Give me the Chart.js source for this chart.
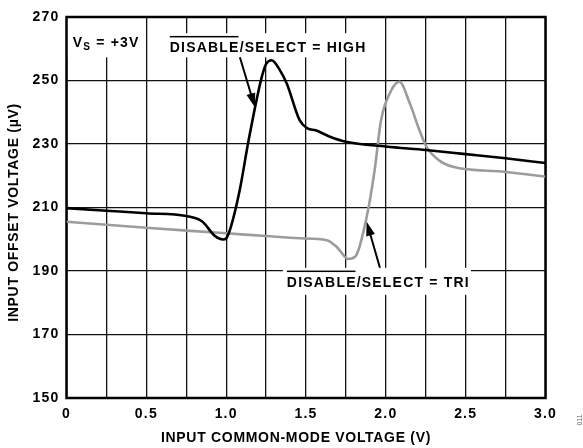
<!DOCTYPE html>
<html>
<head>
<meta charset="utf-8">
<script src="https://cdn.jsdelivr.net/npm/chart.js@4.4.1/dist/chart.umd.min.js"></script>
<style>
  html, body { margin: 0; padding: 0; background: #fff; }
  canvas { display: block; }
</style>
</head>
<body>
<canvas id="offset-chart" width="583" height="448"></canvas>
<script>
// DISABLE/SELECT = HIGH (black trace)
const highX = [0, 0.25, 0.5, 0.75, 0.85, 0.93, 0.98, 1.0, 1.03, 1.085, 1.14, 1.22, 1.25, 1.285, 1.337, 1.38, 1.46, 1.51, 1.56, 1.65, 1.75, 2.0, 2.25, 2.5, 2.75, 3.0];
const highY = [209.8, 209.0, 208.2, 207.3, 205.6, 201.0, 199.9, 200.3, 204.0, 215.5, 231.0, 250.5, 255.2, 256.4, 253.2, 249.0, 237.5, 234.9, 234.3, 232.3, 230.7, 229.2, 228.1, 226.8, 225.5, 224.0];

// DISABLE/SELECT = TRI (grey trace)
const triX = [0, 0.5, 1.0, 1.25, 1.46, 1.63, 1.69, 1.765, 1.81, 1.88, 1.93, 1.97, 2.035, 2.085, 2.15, 2.21, 2.255, 2.34, 2.42, 2.75, 3.0];
const triY = [205.5, 203.6, 201.9, 201.0, 200.3, 199.7, 197.7, 193.8, 194.6, 207.0, 221.8, 237.5, 247.0, 249.6, 242.8, 234.4, 229.1, 224.6, 222.8, 221.2, 219.7];

const xTickLabels = ['0', '0.5', '1.0', '1.5', '2.0', '2.5', '3.0'];
const yTickLabels = ['150', '170', '190', '210', '230', '250', '270'];

const FONT = '"Liberation Sans", Arial, Helvetica, sans-serif';

function drawArrow(ctx, x1, y1, x2, y2) {
  const ang = Math.atan2(y2 - y1, x2 - x1);
  const len = 14, half = 4.5;
  const c = Math.cos(ang), s = Math.sin(ang);
  ctx.strokeStyle = '#000';
  ctx.fillStyle = '#000';
  ctx.lineWidth = 2;
  ctx.beginPath();
  ctx.moveTo(x1, y1);
  ctx.lineTo(x2 - c * len * 0.8, y2 - s * len * 0.8);
  ctx.stroke();
  ctx.beginPath();
  ctx.moveTo(x2, y2);
  ctx.lineTo(x2 - c * len + s * half, y2 - s * len - c * half);
  ctx.lineTo(x2 - c * len - s * half, y2 - s * len + c * half);
  ctx.closePath();
  ctx.fill();
}

function disableLabel(ctx, x, y, rest) {
  ctx.font = 'bold 14px ' + FONT;
  ctx.letterSpacing = '1.2px';
  ctx.textAlign = 'left';
  ctx.textBaseline = 'alphabetic';
  ctx.fillStyle = '#000';
  ctx.fillText('DISABLE' + rest, x, y);
  const w = ctx.measureText('DISABLE').width - 1.2;
  ctx.fillRect(x, y - 16, w, 1.5);
}

const annotations = {
  id: 'annotations',
  beforeDraw(chart) {
    chart.ctx.letterSpacing = '1.2px';
  },
  beforeDatasetsDraw(chart) {
    const { ctx, chartArea: a, scales: { x, y } } = chart;
    ctx.save();
    ctx.fillStyle = '#fff';
    const box = (v1, t, v2, b) => {
      const px = x.getPixelForValue(v1), py = y.getPixelForValue(t);
      ctx.fillRect(px, py, x.getPixelForValue(v2) - px, y.getPixelForValue(b) - py);
    };
    box(0, 270, 0.459, 257.3);
    box(0.635, 264.9, 1.888, 257.3);
    box(1.355, 191.0, 2.533, 182.5);

    ctx.strokeStyle = '#000';
    ctx.lineWidth = 2.5;
    ctx.strokeRect(a.left, a.top, a.right - a.left, a.bottom - a.top);
    ctx.restore();
  },
  afterDatasetsDraw(chart) {
    const { ctx, chartArea: a, scales: { x, y } } = chart;
    ctx.save();
    ctx.fillStyle = '#000';

    // V_S = +3V
    let tx = x.getPixelForValue(0.039), ty = y.getPixelForValue(260.5);
    ctx.letterSpacing = '1.2px';
    ctx.font = 'bold 14px ' + FONT;
    ctx.textAlign = 'left';
    ctx.textBaseline = 'alphabetic';
    ctx.fillText('V', tx, ty);
    tx += ctx.measureText('V').width;
    ctx.font = 'bold 10px ' + FONT;
    ctx.fillText('S', tx, ty + 2.5);
    tx += ctx.measureText('S').width;
    ctx.font = 'bold 14px ' + FONT;
    ctx.fillText(' = +3V', tx, ty);

    disableLabel(ctx, x.getPixelForValue(0.647), y.getPixelForValue(259.0), '/SELECT = HIGH');
    disableLabel(ctx, x.getPixelForValue(1.380), y.getPixelForValue(185.1), '/SELECT = TRI');

    drawArrow(ctx, x.getPixelForValue(1.086), y.getPixelForValue(257.3), x.getPixelForValue(1.18), y.getPixelForValue(241.6));
    drawArrow(ctx, x.getPixelForValue(1.963), y.getPixelForValue(191.0), x.getPixelForValue(1.880), y.getPixelForValue(205.5));

    // axis titles
    ctx.letterSpacing = '0.7px';
    ctx.font = 'bold 14px ' + FONT;
    ctx.textAlign = 'center';
    ctx.textBaseline = 'middle';
    ctx.fillText('INPUT COMMON-MODE VOLTAGE (V)', (a.left + a.right) / 2 - 10, 438);
    ctx.save();
    ctx.translate(14, (a.top + a.bottom) / 2 + 5);
    ctx.rotate(-Math.PI / 2);
    ctx.fillText('INPUT OFFSET VOLTAGE (\u00B5V)', 0, 0);
    ctx.restore();

    // figure number
    ctx.save();
    ctx.letterSpacing = '0px';
    ctx.font = '7px ' + FONT;
    ctx.fillStyle = '#666';
    ctx.translate(580, 420);
    ctx.rotate(-Math.PI / 2);
    ctx.fillText('011', 0, 0);
    ctx.restore();

    ctx.restore();
  }
};

const ctx = document.getElementById('offset-chart').getContext('2d');
const chart = new Chart(ctx, {
  type: 'line',
  data: {
    datasets: [
      {
        label: 'DISABLE/SELECT = HIGH',
        data: highX.map((v, i) => ({ x: v, y: highY[i] })),
        borderColor: '#000',
        borderWidth: 2.6,
        pointRadius: 0,
        cubicInterpolationMode: 'monotone',
      },
      {
        label: 'DISABLE/SELECT = TRI',
        data: triX.map((v, i) => ({ x: v, y: triY[i] })),
        borderColor: '#9c9c9c',
        borderWidth: 2.6,
        pointRadius: 0,
        cubicInterpolationMode: 'monotone',
      },
    ],
  },
  options: {
    responsive: false,
    animation: false,
    devicePixelRatio: 1,
    layout: { padding: { top: 17, right: 37.5, left: 0, bottom: 0 } },
    plugins: { legend: { display: false }, tooltip: { enabled: false } },
    scales: {
      x: {
        type: 'linear',
        min: 0,
        max: 3,
        afterFit: (scale) => { scale.height = 50; },
        border: { display: false },
        grid: { color: '#111', lineWidth: 1.3, drawTicks: false },
        ticks: {
          stepSize: 0.25,
          padding: 8,
          color: '#000',
          maxRotation: 0,
          autoSkip: false,
          font: { family: FONT, size: 14, weight: 'bold' },
          callback: (value) => {
            const k = value * 2;
            return Math.abs(k - Math.round(k)) < 1e-6 ? xTickLabels[Math.round(k)] : '';
          },
        },
      },
      y: {
        min: 150,
        max: 270,
        afterFit: (scale) => { scale.width = 66.5; },
        border: { display: false },
        grid: { color: '#111', lineWidth: 1.3, drawTicks: false },
        ticks: {
          stepSize: 20,
          padding: 7,
          color: '#000',
          font: { family: FONT, size: 14, weight: 'bold' },
          callback: (value) => yTickLabels[Math.round((value - 150) / 20)],
        },
      },
    },
  },
  plugins: [annotations],
});
</script>
</body>
</html>
